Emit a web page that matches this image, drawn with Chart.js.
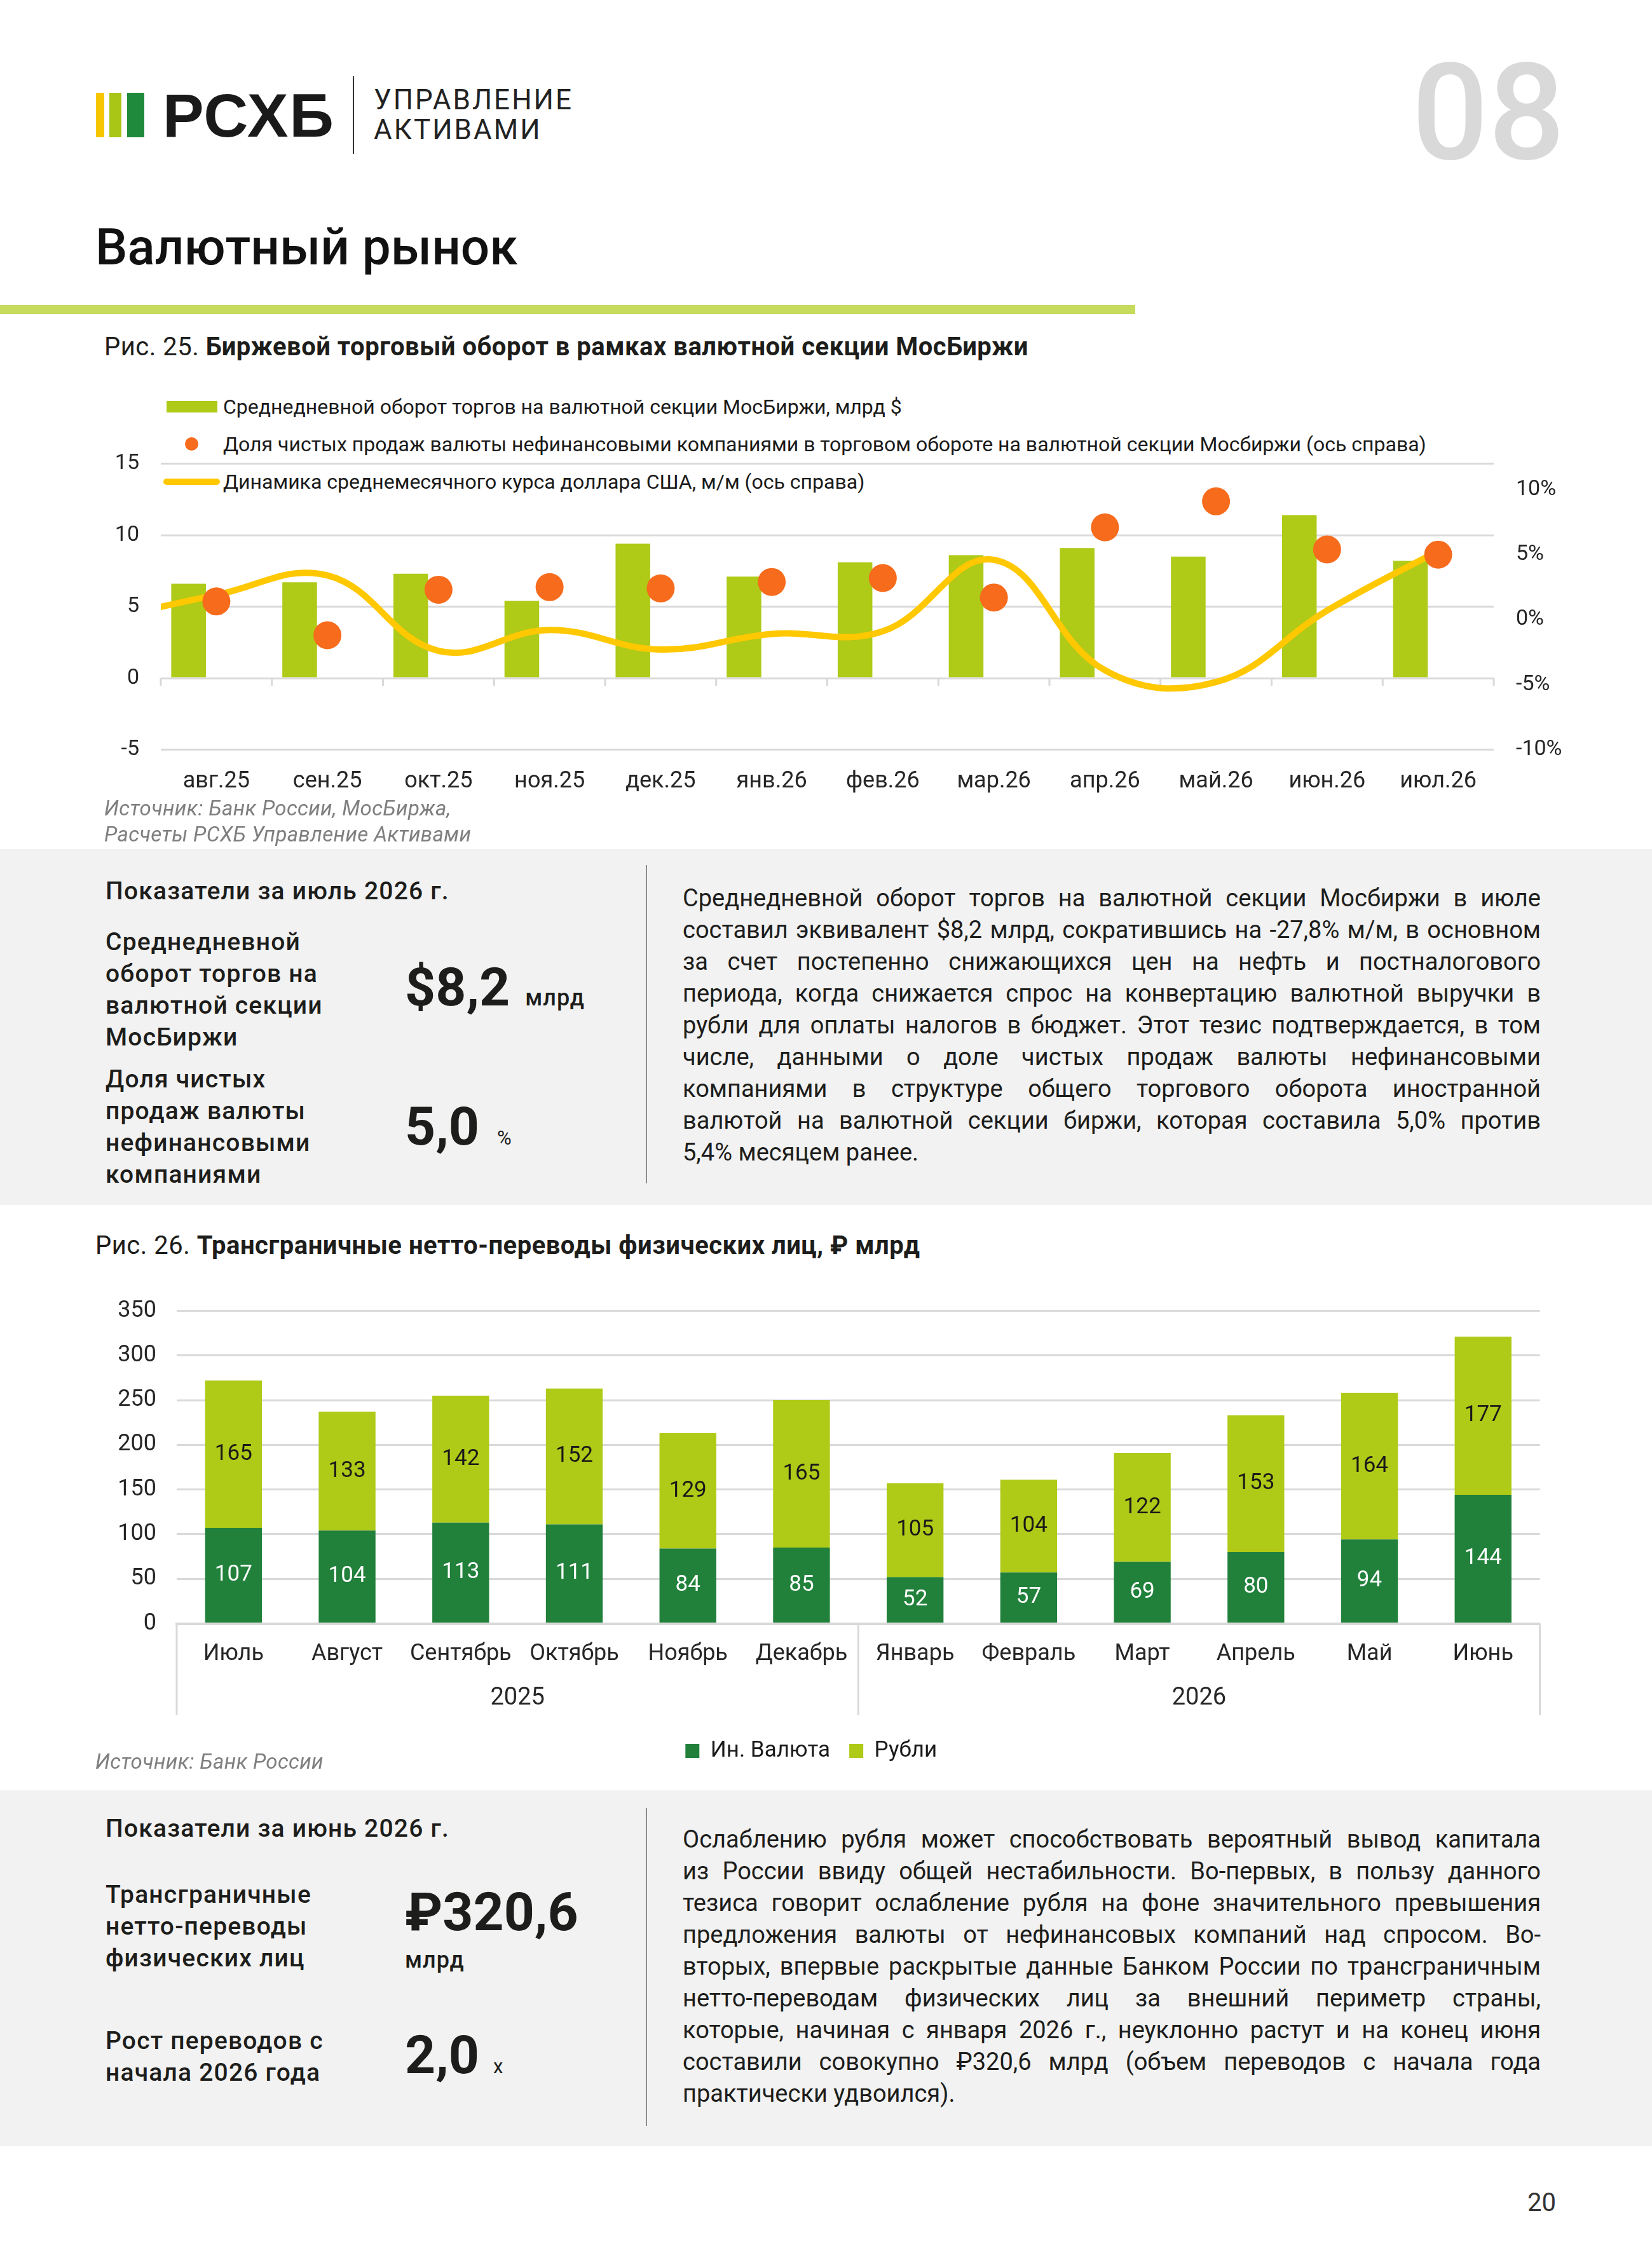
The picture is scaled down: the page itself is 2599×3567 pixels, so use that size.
<!DOCTYPE html>
<html lang="ru">
<head>
<meta charset="utf-8">
<title>Валютный рынок</title>
<script src="https://cdn.jsdelivr.net/npm/chart.js@4.4.1/dist/chart.umd.min.js"></script>
<style>
body{margin:0;background:#fff;font-family:Roboto,"Noto Sans",sans-serif;color:#1d1d1b;}
.page{position:relative;width:2599px;height:3567px;overflow:hidden;background:#fff;}
.abs{position:absolute;white-space:nowrap;}
.panel{position:absolute;left:0;width:2599px;height:560px;background:#f2f2f2;}
.vline{position:absolute;width:2px;background:#8c8c8c;}
.lbl{position:absolute;font-size:39px;line-height:50px;font-weight:500;white-space:nowrap;letter-spacing:1.2px;}
.big{font-size:84px;font-weight:700;line-height:84px;}
.unit{font-size:36px;font-weight:500;letter-spacing:1px;}
.para{position:absolute;left:1074px;width:1350px;font-size:38px;line-height:50px;}
.jl{text-align:justify;text-align-last:justify;height:50px;overflow:visible;}
.jl.last{text-align-last:left;}
.src{position:absolute;font-size:33px;line-height:41px;font-style:italic;color:#7f7f7f;white-space:nowrap;letter-spacing:0.4px;}
.fig{position:absolute;font-size:40px;line-height:50px;white-space:nowrap;letter-spacing:0.5px;}
.fig b{font-weight:700;}
.leg{position:absolute;font-size:32px;line-height:40px;white-space:nowrap;color:#1a1a1a;}
</style>
</head>
<body>
<div class="page">

<!-- шапка -->
<div class="abs" style="left:151px;top:146px;width:13px;height:70px;background:#f7c600"></div>
<div class="abs" style="left:172px;top:146px;width:19px;height:70px;background:#a9c515"></div>
<div class="abs" style="left:200px;top:146px;width:27px;height:70px;background:#1f8a3b"></div>
<div class="abs" style="left:256px;top:133px;font-family:'Liberation Sans',Arial,sans-serif;font-weight:700;font-size:97px;line-height:97px;letter-spacing:2px;color:#1a1a1a">РСХБ</div>
<div class="abs" style="left:555px;top:120px;width:2px;height:122px;background:#333"></div>
<div class="abs" style="left:588px;top:135px;font-size:44px;line-height:44px;letter-spacing:3px;color:#222">УПРАВЛЕНИЕ</div>
<div class="abs" style="left:588px;top:182px;font-size:44px;line-height:44px;letter-spacing:3px;color:#222">АКТИВАМИ</div>
<div class="abs" style="left:2221px;top:72px;font-size:212px;line-height:212px;font-weight:500;color:#d9d9d9">08</div>

<div class="abs" style="left:150px;top:349px;font-size:80px;line-height:80px;font-weight:500;color:#111">Валютный рынок</div>
<div class="abs" style="left:0;top:480px;width:1786px;height:14px;background:#c6da5c"></div>

<!-- Рис. 25 -->
<div class="fig" style="left:164px;top:521px">Рис. 25. <b>Биржевой торговый оборот в рамках валютной секции МосБиржи</b></div>

<div class="abs" style="left:262px;top:631px;width:80px;height:18px;background:#afca17"></div>
<div class="leg" style="left:351px;top:620px">Среднедневной оборот торгов на валютной секции МосБиржи, млрд $</div>
<div class="abs" style="left:291px;top:688px;width:21px;height:21px;border-radius:50%;background:#f76b1c"></div>
<div class="leg" style="left:351px;top:679px">Доля чистых продаж валюты нефинансовыми компаниями в торговом обороте на валютной секции Мосбиржи (ось справа)</div>
<div class="abs" style="left:257px;top:753px;width:89px;height:10px;border-radius:5px;background:#ffc800"></div>
<div class="leg" style="left:351px;top:738px">Динамика среднемесячного курса доллара США, м/м (ось справа)</div>

<canvas id="c1" class="abs" style="left:130px;top:600px" width="2400" height="680"></canvas>

<div class="src" style="left:164px;top:1251px">Источник: Банк России, МосБиржа,</div>
<div class="src" style="left:164px;top:1292px">Расчеты РСХБ Управление Активами</div>

<!-- панель 1 -->
<div class="panel" style="top:1336px"></div>
<div class="lbl" style="left:166px;top:1377px">Показатели за июль 2026 г.</div>
<div class="lbl" style="left:166px;top:1457px">Среднедневной<br>оборот торгов на<br>валютной секции<br>МосБиржи</div>
<div class="abs" style="left:637px;top:1512px;display:flex;align-items:baseline"><span class="big">$8,2</span><span class="unit" style="margin-left:24px">млрд</span></div>
<div class="lbl" style="left:166px;top:1673px">Доля чистых<br>продаж валюты<br>нефинансовыми<br>компаниями</div>
<div class="abs" style="left:637px;top:1731px;display:flex;align-items:baseline"><span class="big">5,0</span><span style="margin-left:28px;font-size:31px">%</span></div>
<div class="vline" style="left:1016px;top:1361px;height:501px"></div>
<div class="para" style="top:1388px">
<div class="jl">Среднедневной оборот торгов на валютной секции Мосбиржи в июле</div>
<div class="jl">составил эквивалент $8,2 млрд, сократившись на -27,8% м/м, в основном</div>
<div class="jl">за счет постепенно снижающихся цен на нефть и постналогового</div>
<div class="jl">периода, когда снижается спрос на конвертацию валютной выручки в</div>
<div class="jl">рубли для оплаты налогов в бюджет. Этот тезис подтверждается, в том</div>
<div class="jl">числе, данными о доле чистых продаж валюты нефинансовыми</div>
<div class="jl">компаниями в структуре общего торгового оборота иностранной</div>
<div class="jl">валютой на валютной секции биржи, которая составила 5,0% против</div>
<div class="jl last">5,4% месяцем ранее.</div>
</div>

<!-- Рис. 26 -->
<div class="fig" style="left:150px;top:1935px">Рис. 26. <b>Трансграничные нетто-переводы физических лиц, ₽ млрд</b></div>
<canvas id="c2" class="abs" style="left:130px;top:2020px" width="2400" height="780"></canvas>
<div class="src" style="left:150px;top:2751px">Источник: Банк России</div>

<!-- панель 2 -->
<div class="panel" style="top:2817px"></div>
<div class="lbl" style="left:166px;top:2852px">Показатели за июнь 2026 г.</div>
<div class="lbl" style="left:166px;top:2956px">Трансграничные<br>нетто-переводы<br>физических лиц</div>
<div class="abs big" style="left:637px;top:2967px">₽320,6</div>
<div class="abs unit" style="left:637px;top:3066px;line-height:36px">млрд</div>
<div class="lbl" style="left:166px;top:3186px">Рост переводов с<br>начала 2026 года</div>
<div class="abs" style="left:637px;top:3192px;display:flex;align-items:baseline"><span class="big">2,0</span><span style="margin-left:22px;font-size:31px">x</span></div>
<div class="vline" style="left:1016px;top:2845px;height:500px"></div>
<div class="para" style="top:2869px">
<div class="jl">Ослаблению рубля может способствовать вероятный вывод капитала</div>
<div class="jl">из России ввиду общей нестабильности. Во-первых, в пользу данного</div>
<div class="jl">тезиса говорит ослабление рубля на фоне значительного превышения</div>
<div class="jl">предложения валюты от нефинансовых компаний над спросом. Во-</div>
<div class="jl">вторых, впервые раскрытые данные Банком России по трансграничным</div>
<div class="jl">нетто-переводам физических лиц за внешний периметр страны,</div>
<div class="jl">которые, начиная с января 2026 г., неуклонно растут и на конец июня</div>
<div class="jl">составили совокупно ₽320,6 млрд (объем переводов с начала года</div>
<div class="jl last">практически удвоился).</div>
</div>

<div class="abs" style="left:2403px;top:3446px;font-size:40px;line-height:40px;color:#333">20</div>
</div>

<script>
// Рис. 25
const months = ['авг.25','сен.25','окт.25','ноя.25','дек.25','янв.26','фев.26','мар.26','апр.26','май.26','июн.26','июл.26'];
const turnover = [6.6, 6.7, 7.3, 5.4, 9.4, 7.1, 8.1, 8.6, 9.1, 8.5, 11.4, 8.2];
const netSalesShare = [1.4, -1.2, 2.3, 2.5, 2.4, 2.9, 3.2, 1.7, 7.1, 9.1, 5.4, 5.0];
// курс $ м/м, начиная с июл.25 (линия уходит за левый край графика)
const usdMonths = ['июл.25'].concat(months);
const usdChange = [0.0, 1.9, 3.4, -2.4, -0.8, -2.3, -1.1, -0.9, 4.6, -3.9, -4.8, 0.7, 5.3];
const leftTicks = [-5, 0, 5, 10, 15];
const rightTicks = [-10, -5, 0, 5, 10];

// Рис. 26
const months2 = ['Июль','Август','Сентябрь','Октябрь','Ноябрь','Декабрь','Январь','Февраль','Март','Апрель','Май','Июнь'];
const years = ['2025','2026'];
const yearSpans = [6, 6];
const fxPart = [107, 104, 113, 111, 84, 85, 52, 57, 69, 80, 94, 144];
const rubPart = [165, 133, 142, 152, 129, 165, 105, 104, 122, 153, 164, 177];

// fit justified lines
document.querySelectorAll('.jl').forEach(el=>{
let fs=38;
while(el.scrollHeight>55 && fs>30){fs-=0.5;el.style.fontSize=fs+'px';}
});

Chart.defaults.font.family="Roboto";
Chart.defaults.color="#262626";

const zeroTicks={
id:'zeroTicks',
beforeDatasetsDraw(chart){
const x=chart.scales.x, y=chart.scales.y;
const y0=y.getPixelForValue(0);
const w=(x.right-x.left)/months.length;
const ctx=chart.ctx;
ctx.save();
ctx.strokeStyle='#d9d9d9';
ctx.lineWidth=3;
for(let i=0;i<=months.length;i++){
const px=x.left+i*w;
ctx.beginPath();
ctx.moveTo(px,y0);
ctx.lineTo(px,y0+12);
ctx.stroke();
}
ctx.restore();
}
};

new Chart(document.getElementById('c1'),{
type:'bar',
data:{
labels:months,
datasets:[
{
type:'line',
label:'Доля чистых продаж валюты',
data:netSalesShare,
yAxisID:'y2',
showLine:false,
pointRadius:22,
pointBackgroundColor:'#f76b1c',
pointBorderWidth:0,
order:1,
clip:false
},
{
type:'line',
label:'Динамика курса',
data:usdChange.map((v,i)=>({x:i-1,y:v})),
xAxisID:'xl',
yAxisID:'y2',
borderColor:'#ffc800',
borderWidth:10,
pointRadius:0,
tension:0.4,
borderCapStyle:'round',
order:2,
clip:0
},
{
type:'bar',
label:'Среднедневной оборот',
data:turnover,
backgroundColor:'#afca17',
categoryPercentage:1,
barPercentage:0.624,
order:3
}
]
},
options:{
responsive:false,
animation:false,
devicePixelRatio:1,
events:[],
layout:{padding:{top:129.5}},
plugins:{legend:{display:false},tooltip:{enabled:false}},
scales:{
x:{
type:'category',
offset:true,
grid:{display:false,drawTicks:false},
border:{display:false},
ticks:{font:{size:36},padding:29,maxRotation:0,autoSkip:false},
afterFit(s){s.height=100.5;}
},
xl:{
type:'linear',
position:'bottom',
offset:false,
min:-0.5,
max:11.5,
grid:{display:false,drawTicks:false},
border:{display:false},
ticks:{display:false},
afterFit(s){s.height=0;}
},
y:{
position:'left',
min:leftTicks[0],
max:leftTicks[leftTicks.length-1],
ticks:{stepSize:5,font:{size:34},padding:34},
grid:{color:'#d9d9d9',lineWidth:3,drawTicks:false},
border:{display:false},
afterFit(s){s.width=123;}
},
y2:{
position:'right',
min:rightTicks[0],
max:12,
ticks:{stepSize:5,font:{size:34},padding:35,callback:v=>v+'%'},
grid:{drawOnChartArea:false,drawTicks:false},
border:{display:false},
afterBuildTicks(s){s.ticks=s.ticks.filter(t=>rightTicks.includes(t.value));},
afterFit(s){s.width=180;}
}
}
},
plugins:[zeroTicks]
});

const segLabels={
id:'segLabels',
afterDatasetsDraw(chart){
const ctx=chart.ctx;
ctx.save();
ctx.font='35px Roboto';
ctx.textAlign='center';
ctx.textBaseline='middle';
chart.data.datasets.forEach((ds,di)=>{
const meta=chart.getDatasetMeta(di);
ctx.fillStyle=ds.labelColor;
meta.data.forEach((bar,i)=>{
const p=bar.getProps(['x','y','base'],true);
ctx.fillText(String(ds.data[i]),p.x,(p.y+p.base)/2);
});
});
ctx.restore();
}
};

const yearRow={
id:'yearRow',
afterDraw(chart){
const ctx=chart.ctx;
const x=chart.scales.x;
const bottom=chart.chartArea.bottom;
const w=(x.right-x.left)/months2.length;
const bounds=[0];
yearSpans.forEach(n=>bounds.push(bounds[bounds.length-1]+n));
ctx.save();
ctx.strokeStyle='#d9d9d9';
ctx.lineWidth=3;
bounds.forEach(b=>{
const px=x.left+b*w;
ctx.beginPath();
ctx.moveTo(px,bottom);
ctx.lineTo(px,bottom+144);
ctx.stroke();
});
ctx.fillStyle='#262626';
ctx.font='38px Roboto';
ctx.textAlign='center';
ctx.textBaseline='middle';
years.forEach((yr,i)=>{
ctx.fillText(yr,x.left+(bounds[i]+bounds[i+1])/2*w,bottom+118);
});
ctx.restore();
}
};

new Chart(document.getElementById('c2'),{
type:'bar',
data:{
labels:months2,
datasets:[
{label:'Ин. Валюта',data:fxPart,backgroundColor:'#21813b',labelColor:'#ffffff',categoryPercentage:1,barPercentage:0.5,borderWidth:0},
{label:'Рубли',data:rubPart,backgroundColor:'#afca17',labelColor:'#1a1a1a',categoryPercentage:1,barPercentage:0.5,borderWidth:0}
]
},
options:{
responsive:false,
animation:false,
devicePixelRatio:1,
events:[],
layout:{padding:{top:42.5,right:107.4,bottom:17.5}},
plugins:{
legend:{position:'bottom',labels:{font:{size:35},boxWidth:22,boxHeight:22,padding:30,color:'#1a1a1a'}},
tooltip:{enabled:false}
},
scales:{
x:{
stacked:true,
grid:{display:false,drawTicks:false},
border:{color:'#d9d9d9',width:4},
ticks:{font:{size:36},padding:27,maxRotation:0,autoSkip:false},
afterFit(s){s.height=153;}
},
y:{
stacked:true,
min:0,
max:350,
ticks:{stepSize:50,font:{size:36},padding:32},
grid:{color:'#d9d9d9',lineWidth:3,drawTicks:false},
border:{display:false},
afterFit(s){s.width=148;s.paddingTop=22;s.paddingBottom=22;}
}
}
},
plugins:[segLabels,yearRow]
});
</script>
</body>
</html>
